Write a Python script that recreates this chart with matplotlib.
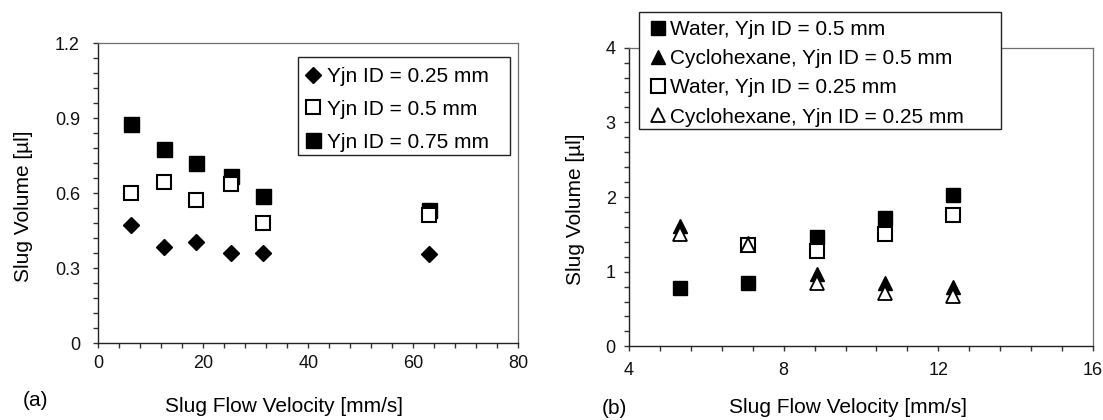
import matplotlib
matplotlib.use("Agg")
import matplotlib.pyplot as plt
from matplotlib.ticker import MultipleLocator, FuncFormatter
from matplotlib.patches import Rectangle

plt.rcParams['font.family'] = ['Liberation Sans', 'DejaVu Sans']

# Panel (a)
vel_a = [6.2, 12.6, 18.7, 25.2, 31.4, 62.9]
vol_025 = [0.473, 0.387, 0.404, 0.363, 0.363, 0.357]
vol_05 = [0.603, 0.644, 0.573, 0.636, 0.482, 0.513]
vol_075 = [0.877, 0.776, 0.72, 0.67, 0.59, 0.533]
labels_a = ['Yjn ID = 0.25 mm', 'Yjn ID = 0.5 mm', 'Yjn ID = 0.75 mm']

# Panel (b)
vel_b = [5.32, 7.09, 8.85, 10.62, 12.39]
water_05 = [0.776, 0.843, 1.459, 1.72, 2.025]
cyclo_05 = [1.61, 1.38, 0.968, 0.852, 0.79]
vel_b_w025 = [7.09, 8.85, 10.62, 12.39]
water_025 = [1.356, 1.28, 1.50, 1.758]
cyclo_025 = [1.51, 1.36, 0.843, 0.709, 0.673]
labels_b = ['Water, Yjn ID = 0.5 mm', 'Cyclohexane, Yjn ID = 0.5 mm',
            'Water, Yjn ID = 0.25 mm', 'Cyclohexane, Yjn ID = 0.25 mm']

W, H = 1103, 420
fig = plt.figure(figsize=(W / 100, H / 100), dpi=100)

FS = 15
TFS = 13


def style_axes(ax, xpad, ypad):
    for s in ['left', 'bottom']:
        ax.spines[s].set_color('#222222')
        ax.spines[s].set_linewidth(1.0)
    for s in ['top', 'right']:
        ax.spines[s].set_color('#6e6e6e')
        ax.spines[s].set_linewidth(0.9)
    ax.tick_params(which='both', direction='out', length=3.6, width=1, color='#333333')
    ax.tick_params(which='major', labelsize=TFS, labelcolor='#111111')
    ax.tick_params(axis='x', which='major', pad=xpad)
    ax.tick_params(axis='y', which='major', pad=ypad)
    ax.tick_params(top=False, right=False, which='both')


def fig_box(x0, y0, x1, y1):
    r = Rectangle((x0 / W, 1 - y1 / H), (x1 - x0) / W, (y1 - y0) / H, transform=fig.transFigure,
                  facecolor='white', edgecolor='#222222', linewidth=1.0, zorder=5)
    fig.add_artist(r)


# ---------- panel (a) ----------
ax1 = fig.add_axes([98.3 / W, 1 - 343.3 / H, 420 / W, 300 / H])
h1, = ax1.plot(vel_a, vol_025, linestyle='none', marker='D', ms=7.8, mfc='black', mec='black', mew=1, zorder=3)
h2, = ax1.plot(vel_a, vol_05, linestyle='none', marker='s', ms=10, mfc='white', mec='black', mew=1.5, zorder=3)
h3, = ax1.plot(vel_a, vol_075, linestyle='none', marker='s', ms=10.8, mfc='black', mec='black', mew=1, zorder=2)
ax1.set_xlim(0, 80)
ax1.set_ylim(0, 1.2)
ax1.xaxis.set_major_locator(MultipleLocator(20))
ax1.xaxis.set_minor_locator(MultipleLocator(4))
ax1.yaxis.set_major_locator(MultipleLocator(0.3))
ax1.yaxis.set_minor_locator(MultipleLocator(0.06))
ax1.yaxis.set_major_formatter(FuncFormatter(lambda v, p: '%g' % round(v, 2)))
style_axes(ax1, xpad=4.7, ypad=9.6)
ax1.set_xlabel('Slug Flow Velocity [mm/s]', fontsize=FS)
ax1.set_ylabel('Slug Volume [µl]', fontsize=FS)
ax1.xaxis.set_label_coords(0.443, -0.179)
ax1.yaxis.set_label_coords(-0.155, 0.458)

fig_box(298, 57, 510, 155)
leg1 = fig.legend([h1, h2, h3], labels_a, loc='upper left', bbox_to_anchor=(304.4 / W, 1 - 67 / H),
                  bbox_transform=fig.transFigure, fontsize=FS, frameon=False, numpoints=1,
                  handlelength=0.8, handletextpad=0.28, labelspacing=0.66, borderpad=0, borderaxespad=0)
leg1.set_zorder(6)

# ---------- panel (b) ----------
ax2 = fig.add_axes([629 / W, 1 - 346.3 / H, 464 / W, 298.6 / H])
g1, = ax2.plot(vel_b, water_05, linestyle='none', marker='s', ms=10.6, mfc='black', mec='black', mew=1, zorder=2)
g2, = ax2.plot(vel_b, cyclo_05, linestyle='none', marker='^', ms=10.5, mfc='black', mec='black', mew=1, zorder=3)
g3, = ax2.plot(vel_b_w025, water_025, linestyle='none', marker='s', ms=10, mfc='white', mec='black', mew=1.5, zorder=3)
g4, = ax2.plot(vel_b, cyclo_025, linestyle='none', marker='^', ms=9.5, mfc='white', mec='black', mew=1.3, zorder=4)
ax2.set_xlim(4, 16)
ax2.set_ylim(0, 4)
ax2.xaxis.set_major_locator(MultipleLocator(4))
ax2.xaxis.set_minor_locator(MultipleLocator(0.8))
ax2.yaxis.set_major_locator(MultipleLocator(1))
ax2.yaxis.set_minor_locator(MultipleLocator(0.2))
style_axes(ax2, xpad=7.7, ypad=6.0)
ax2.set_xlabel('Slug Flow Velocity [mm/s]', fontsize=FS)
ax2.set_ylabel('Slug Volume [µl]', fontsize=FS)
ax2.xaxis.set_label_coords(0.4716, -0.173)
ax2.yaxis.set_label_coords(-0.095, 0.46)

fig_box(639.3, 11.7, 1000.7, 129.3)
leg2 = fig.legend([g1, g2, g3, g4], labels_b, loc='upper left', bbox_to_anchor=(649.7 / W, 1 - 20 / H),
                  bbox_transform=fig.transFigure, fontsize=FS, frameon=False, numpoints=1,
                  handlelength=0.8, handletextpad=0.17, labelspacing=0.49, borderpad=0, borderaxespad=0)
leg2.set_zorder(6)

fig.text(22.7 / W, 1 - 400 / H, '(a)', fontsize=FS, va='center', ha='left')
fig.text(601.7 / W, 1 - 408 / H, '(b)', fontsize=FS, va='center', ha='left')

fig.savefig('out.png', dpi=100)
